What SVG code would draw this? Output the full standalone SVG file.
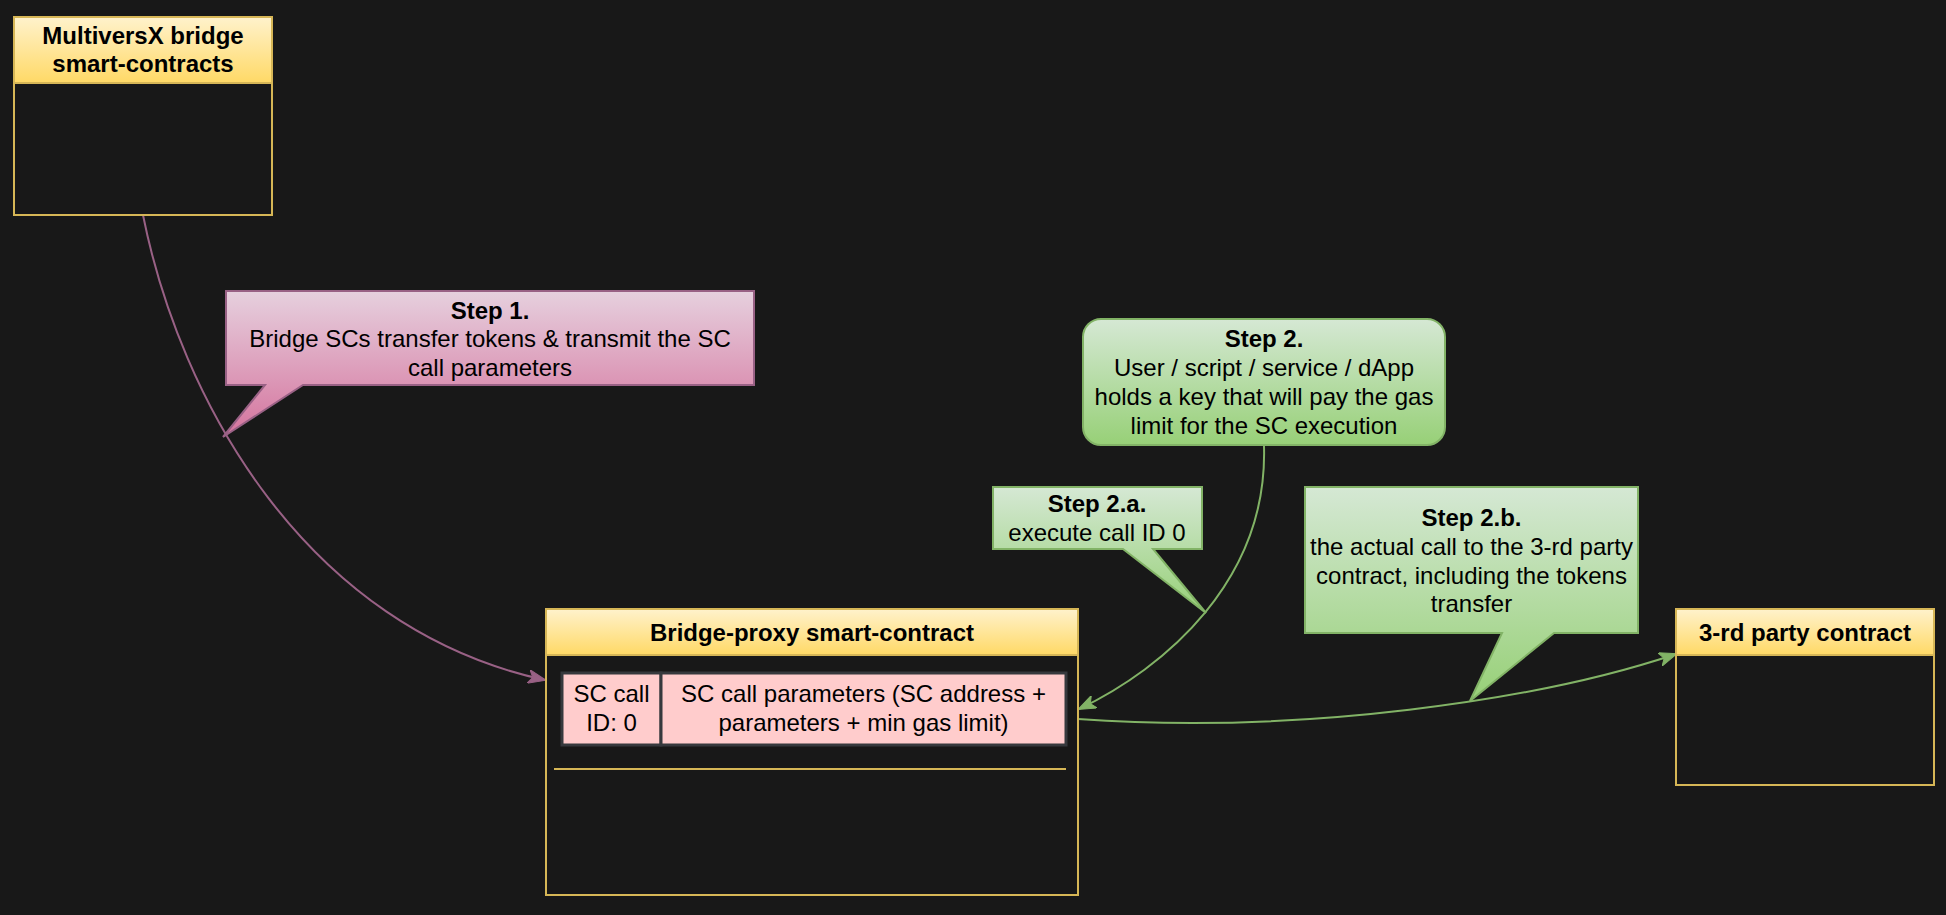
<svg xmlns="http://www.w3.org/2000/svg" width="1946" height="915" viewBox="0 0 1946 915">
<style>
text{font-family:"Liberation Sans",Arial,Helvetica,sans-serif;font-size:24px;fill:#000;text-anchor:middle}
.b{font-weight:bold}
.frame{fill:none;stroke:#d6b656;stroke-width:2}
.hdr{fill:url(#gY);stroke:#d6b656;stroke-width:2}
.cell{fill:#ffcccc;stroke:#36393d;stroke-width:3}
.pk{fill:url(#gP);stroke:#996185;stroke-width:2}
.gr{fill:url(#gG);stroke:#82b366;stroke-width:2}
.ep{fill:none;stroke:#996185;stroke-width:2}
.eg{fill:none;stroke:#82b366;stroke-width:2}
</style>
<defs>
<linearGradient id="gY" x1="0" y1="0" x2="0" y2="1"><stop offset="0" stop-color="#fff2cc"/><stop offset="1" stop-color="#ffd966"/></linearGradient>
<linearGradient id="gP" x1="0" y1="0" x2="0" y2="1"><stop offset="0" stop-color="#e6d0de"/><stop offset="1" stop-color="#d5739d"/></linearGradient>
<linearGradient id="gG" x1="0" y1="0" x2="0" y2="1"><stop offset="0" stop-color="#d5e8d4"/><stop offset="1" stop-color="#97d077"/></linearGradient>
<marker id="aP" viewBox="0 0 18 14" refX="17" refY="7" markerWidth="18" markerHeight="14" markerUnits="userSpaceOnUse" orient="auto"><path d="M0,0 L18,7 L0,14 L4.5,7 Z" fill="#996185" stroke="#996185" stroke-width="1"/></marker>
<marker id="aG" viewBox="0 0 18 14" refX="17" refY="7" markerWidth="18" markerHeight="14" markerUnits="userSpaceOnUse" orient="auto"><path d="M0,0 L18,7 L0,14 L4.5,7 Z" fill="#82b366" stroke="#82b366" stroke-width="1"/></marker>
</defs>
<rect x="0" y="0" width="1946" height="915" fill="#181818"/>

<g id="connectors">
<path class="ep" d="M143,215 C180,400 305,628 545,680" marker-end="url(#aP)"/>
<path class="eg" d="M1264,446 C1268,580 1165,668 1079,709" marker-end="url(#aG)"/>
<path class="eg" d="M1078,719 C1300,735 1540,700 1676,654" marker-end="url(#aG)"/>
</g>

<g id="multiversx">
<rect class="hdr" x="14" y="17" width="258" height="66"/>
<rect class="frame" x="14" y="17" width="258" height="198"/>
<text class="b" x="143" y="43.5">MultiversX bridge</text>
<text class="b" x="143" y="72">smart-contracts</text>
</g>

<g id="bridge-proxy">
<rect class="hdr" x="546" y="609" width="532" height="46"/>
<rect class="frame" x="546" y="609" width="532" height="286"/>
<text class="b" x="812" y="640.5">Bridge-proxy smart-contract</text>
<rect class="cell" x="562" y="673" width="99" height="72"/>
<rect class="cell" x="661" y="673" width="405" height="72"/>
<text x="611.5" y="701.5">SC call</text>
<text x="611.5" y="730.5">ID: 0</text>
<text x="863.5" y="701.5">SC call parameters (SC address +</text>
<text x="863.5" y="730.5">parameters + min gas limit)</text>
<line x1="554" y1="769" x2="1066" y2="769" stroke="#d6b656" stroke-width="2"/>
</g>

<g id="third-party">
<rect class="hdr" x="1676" y="609" width="258" height="46"/>
<rect class="frame" x="1676" y="609" width="258" height="176"/>
<text class="b" x="1805" y="640.5">3-rd party contract</text>
</g>

<g id="step1">
<path class="pk" d="M226,291 H754 V385 H303 L223,437 L265,385 H226 Z"/>
<text class="b" x="490" y="318.5">Step 1.</text>
<text x="490" y="347">Bridge SCs transfer tokens &amp; transmit the SC</text>
<text x="490" y="375.5">call parameters</text>
</g>

<g id="step2">
<rect class="gr" x="1083" y="319" width="362" height="126" rx="18" ry="18"/>
<text class="b" x="1264" y="346.5">Step 2.</text>
<text x="1264" y="376">User / script / service / dApp</text>
<text x="1264" y="405">holds a key that will pay the gas</text>
<text x="1264" y="434">limit for the SC execution</text>
</g>

<g id="step2a">
<path class="gr" d="M993,487 H1202 V549 H1153 L1206,613 L1123,549 H993 Z"/>
<text class="b" x="1097" y="511.5">Step 2.a.</text>
<text x="1097" y="540.5">execute call ID 0</text>
</g>

<g id="step2b">
<path class="gr" d="M1305,487 H1638 V633 H1554 L1470,701 L1502,633 H1305 Z"/>
<text class="b" x="1471.5" y="525.5">Step 2.b.</text>
<text x="1471.5" y="554.5">the actual call to the 3-rd party</text>
<text x="1471.5" y="583.5">contract, including the tokens</text>
<text x="1471.5" y="612">transfer</text>
</g>
</svg>
